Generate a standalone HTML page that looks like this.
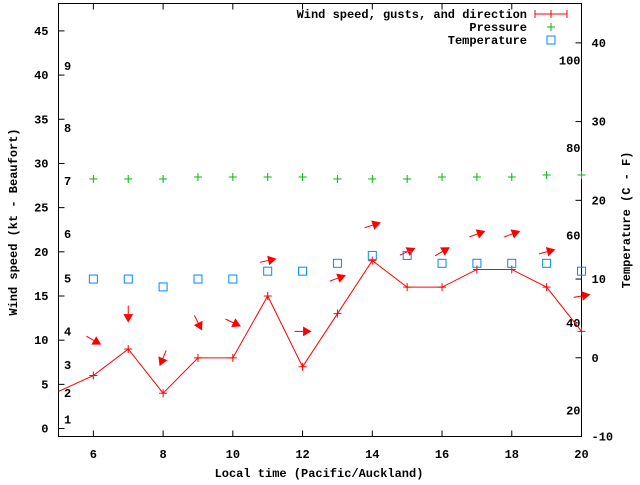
<!DOCTYPE html>
<html><head><meta charset="utf-8"><style>
body{margin:0;background:#fff}
svg text{font-family:"Liberation Mono",monospace;font-weight:bold;font-size:12px;fill:#000}
</style></head><body>
<svg width="640" height="480" viewBox="0 0 640 480">
<g id="g"></g>
</svg>
<script>
const hours=[5,6,7,8,9,10,11,12,13,14,15,16,17,18,19,20];
const windSpeed=[4.2,6,9,4,8,8,15,7,13,19,16,16,18,18,16,11];
const gusts=[null,10,13,8,12,12,19,11,17,23,20,20,22,22,20,15];
const windHeading=[null,30,90,113,63,25,-12,0,-20,-18,-25,-30,-20,-20,-15,-10];
const pressureHours=[6,7,8,9,10,11,12,13,14,15,16,17,18,19,20];
const pressure=[1013.0,1013.0,1013.0,1013.2,1013.2,1013.2,1013.2,1013.0,1013.0,1013.0,1013.2,1013.2,1013.2,1013.4,1013.4];
const tempHours=[6,7,8,9,10,11,12,13,14,15,16,17,18,19,20];
const temperature=[10,10,9,10,10,11,11,12,13,13,12,12,12,12,11];
const xTicks=[6,8,10,12,14,16,18,20];
const yTicks=[0,5,10,15,20,25,30,35,40,45];
const y2Ticks=[-10,0,10,20,30,40];
const fTicks=[20,40,60,80,100];
const beaufort=[1,2,3,4,5,6,7,8,9];
const beaufortKt=[1,4,7.2,11,17,22,28,34,41];

const L=58.5,R=581.5,T=3.5,B=436.5;
const X=h=>L+(h-5)/15*(R-L);
const Y=v=>B-(v+0.9)/49*(B-T);
const Y2=c=>B-(c+10)/55*(B-T);
const YP=p=>179-(p-1013)*10;
const g=document.getElementById('g');
const NS='http://www.w3.org/2000/svg';
function el(t,a,txt){const e=document.createElementNS(NS,t);for(const k in a)e.setAttribute(k,a[k]);if(txt!==undefined)e.textContent=txt;g.appendChild(e);return e;}

let e;
e=el('rect',{x:L,y:T,width:R-L,height:B-T,fill:'none',stroke:'#000','stroke-width':1});


xTicks.forEach(h=>{
 e=el('path',{d:`M${X(h)} ${B}v-6M${X(h)} ${T}v6`,stroke:'#000'});
 
 
 e=el('text',{x:X(h),y:458,'text-anchor':'middle'},h);
 
 
});
yTicks.forEach(v=>{
 e=el('path',{d:`M${L} ${Y(v)}h6`,stroke:'#000'});
 
 
 e=el('text',{x:L-10,y:Y(v)+4,'text-anchor':'end'},v);
 
 
});
y2Ticks.forEach(v=>{
 e=el('path',{d:`M${R} ${Y2(v)}h-6`,stroke:'#000'});
 
 
 e=el('text',{x:R+10,y:Y2(v)+4,'text-anchor':'start'},v);
 
 
});
fTicks.forEach(f=>{
 e=el('text',{x:R-1,y:Y2((f-32)*5/9)+4,'text-anchor':'end'},f);
 
 
});
beaufort.forEach((b,i)=>{
 e=el('text',{x:64,y:Y(beaufortKt[i])+4},b);
 
 
});
e=el('text',{x:319,y:477,'text-anchor':'middle'},'Local time (Pacific/Auckland)');


e=el('text',{x:17,y:222,'text-anchor':'middle',transform:'rotate(-90 17 222)'},'Wind speed (kt - Beaufort)');


e=el('text',{x:630,y:220,'text-anchor':'middle',transform:'rotate(-90 630 220)'},'Temperature (C - F)');



e=el('polyline',{points:hours.map((h,i)=>X(h)+','+Y(windSpeed[i])).join(' '),fill:'none',stroke:'#f00'});


hours.forEach((h,i)=>{
 if(i===0)return;
 const x=X(h),y=Y(windSpeed[i]);
 e=el('path',{d:`M${x-4} ${y}h8M${x} ${y-4}v8`,stroke:'#f00'});
 
 
});
hours.forEach((h,i)=>{
 if(gusts[i]===null)return;
 const cx=X(h),cy=Y(gusts[i]),a=windHeading[i]*Math.PI/180,len=16;
 const dx=Math.cos(a),dy=Math.sin(a);
 const x1=cx-dx*len/2,y1=cy-dy*len/2,x2=cx+dx*len/2,y2=cy+dy*len/2;
 const hx=x2-dx*7,hy=y2-dy*7,px=-dy*4,py=dx*4;
 e=el('path',{d:`M${x1} ${y1}L${x2} ${y2}M${x2} ${y2}L${hx+px} ${hy+py}L${hx-px} ${hy-py}Z`,stroke:'#f00',fill:'#f00','stroke-width':1});
 
 
});
pressureHours.forEach((h,i)=>{
 const x=X(h),y=YP(pressure[i]);
 e=el('path',{d:`M${x-4} ${y}h8M${x} ${y-4}v8`,stroke:'#0b0'});
 
 
});
tempHours.forEach((h,i)=>{
 const x=X(h),y=Y2(temperature[i]);
 e=el('rect',{x:x-4,y:y-4,width:8,height:8,fill:'none',stroke:'#08f'});
 
 
});
e=el('text',{x:527,y:18,'text-anchor':'end'},'Wind speed, gusts, and direction');


e=el('path',{d:'M535 14h32M535 10v8M567 10v8M551 10v8',stroke:'#f00'});


e=el('text',{x:527,y:31,'text-anchor':'end'},'Pressure');


e=el('path',{d:'M547 27h8M551 23v8',stroke:'#0b0'});


e=el('text',{x:527,y:44,'text-anchor':'end'},'Temperature');


e=el('rect',{x:547,y:36,width:8,height:8,fill:'none',stroke:'#08f'});


</script>
</body></html>
